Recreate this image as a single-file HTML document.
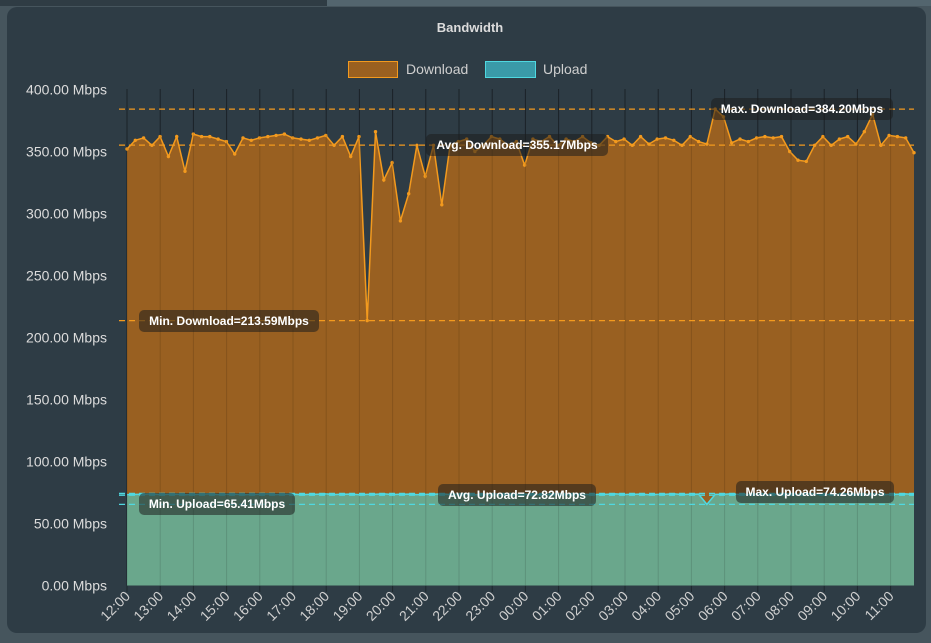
<!DOCTYPE html>
<html><head><meta charset="utf-8"><style>
html,body{margin:0;padding:0;width:931px;height:643px;overflow:hidden;background:#46555d;font-family:"Liberation Sans",sans-serif}
</style></head><body>
<svg id="s" width="931" height="643" xmlns="http://www.w3.org/2000/svg" style="position:absolute;left:0;top:0">
<rect x="0" y="0" width="327" height="6" fill="#2f3c44"/>
<rect x="327" y="0" width="604" height="6" fill="#53656e"/>
<rect x="0" y="6" width="931" height="637" fill="#46555d"/>
<rect x="7" y="7" width="919" height="626" rx="10" fill="#2e3c45"/>
<text x="470" y="32" fill="#dcdcdc" font-size="13" font-weight="bold" text-anchor="middle">Bandwidth</text>
<rect x="348.5" y="61.5" width="49" height="16" fill="#9a6020" stroke="#f39a1e"/>
<text x="406" y="74" fill="#cfcfcf" font-size="14">Download</text>
<rect x="485.5" y="61.5" width="50" height="16" fill="#3a9aa8" stroke="#4fd8e0"/>
<text x="543" y="74" fill="#cfcfcf" font-size="14">Upload</text>
<g id="g"></g>
</svg>
<script>
var D=[352,359,361,355,362,346,362,334,364,362,362,360,358,348,361,359,361,362,363,364,361,360,359,361,363,355,362,346,362,213.6,366,327,341,294,316,355,330,355,307,355,358,360,350,355,362,360,355,358,339,360,358,362,355,360,358,362,357,355,362,358,360,355,362,356,360,361,359,355,362,358,356,384.2,378,357,360,358,361,362,361,362,350,343,342,355,362,355,360,362,356,366,380,355,363,362,361,349];
var N=D.length;
var U=[];for(var i=0;i<N;i++){U.push(73.3+((i*37)%7)/10*0.9);}U[70]=65.41;U[82]=74.26;
var x0=127,dx=(914-127)/(N-1);function X(i){return x0+i*dx}function Y(v){return 585.5-v*1.24}
var h='';
for(var k=0;k<24;k++){var gx=x0+k*33.2;h+='<line x1="'+gx+'" y1="89" x2="'+gx+'" y2="592" stroke="rgba(0,0,0,0.35)" stroke-width="1"/>';}
function area(a,fill,line){var p='M'+X(0)+','+Y(a[0]);for(var i=1;i<a.length;i++)p+='L'+X(i).toFixed(1)+','+Y(a[i]).toFixed(1);
var s='<path d="'+p+'L'+X(N-1)+',585.5L'+X(0)+',585.5Z" fill="'+fill+'"/>';s+='<path d="'+p+'" fill="none" stroke="'+line+'" stroke-width="1.5"/>';return s;}
h+=area(D,'rgba(163,100,30,0.92)','#f39a1e');
for(var i=0;i<N;i++)h+='<circle cx="'+X(i).toFixed(1)+'" cy="'+Y(D[i]).toFixed(1)+'" r="1.7" fill="#f39a1e"/>';
h+=area(U,'#6aa78c','#4fd8e0');
for(var k=0;k<24;k++){var gx=x0+k*33.2;h+='<line x1="'+gx+'" y1="89" x2="'+gx+'" y2="585" stroke="rgba(0,0,0,0.12)"/>';}
function dl(v,c){return '<line x1="119" x2="914" y1="'+Y(v)+'" y2="'+Y(v)+'" stroke="'+c+'" stroke-width="1.3" stroke-dasharray="6,4"/>';}
h+=dl(384.2,'#f39a1e')+dl(355.17,'#f39a1e')+dl(213.59,'#f39a1e')+dl(72.82,'#4fd8e0')+dl(65.41,'#4fd8e0')+dl(74.26,'#4fd8e0');
function lab(x,y,w,t){return '<rect x="'+x+'" y="'+y+'" width="'+w+'" height="22" rx="5" fill="rgba(30,30,30,0.55)"/><text x="'+(x+w/2)+'" y="'+(y+15)+'" fill="#fff" font-size="12" font-weight="bold" text-anchor="middle">'+t+'</text>';}
h+=lab(711,98,182,'Max. Download=384.20Mbps')+lab(426,134,182,'Avg. Download=355.17Mbps')+lab(139,310,180,'Min. Download=213.59Mbps')+lab(438,484,158,'Avg. Upload=72.82Mbps')+lab(139,493,156,'Min. Upload=65.41Mbps')+lab(736,481,158,'Max. Upload=74.26Mbps');
for(var v=0;v<=400;v+=50){h+='<text x="107" y="'+(Y(v)+5)+'" fill="#dcdcdc" font-size="14" text-anchor="end">'+v.toFixed(2)+' Mbps</text>';}
for(var k=0;k<24;k++){var gx=x0+k*33.2;var hr=(12+k)%24;var t=(hr<10?'0':'')+hr+':00';
h+='<text transform="translate('+(gx+4)+',597) rotate(-45)" fill="#d0d0d0" font-size="14" text-anchor="end">'+t+'</text>';}
document.getElementById('g').innerHTML=h;
</script>
</body></html>
